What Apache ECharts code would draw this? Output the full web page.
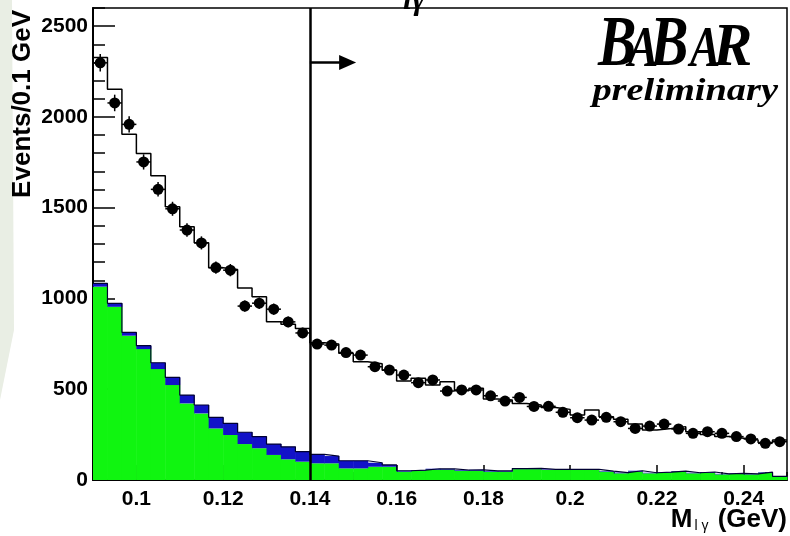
<!DOCTYPE html>
<html><head><meta charset="utf-8">
<script src="https://cdn.jsdelivr.net/npm/echarts@6/dist/echarts.min.js"></script>
<style>html,body{margin:0;padding:0;background:#fff}#c{width:790px;height:536px}</style>
</head><body><div id="c"></div>
<script>
// ---- data ----
const xRange = [0.09, 0.25];
const nBins = 48;
const dataCounts = [2298,2077,1959,1752,1601,1494,1377,1306,1170,1156,
  958,974,941,871,810,749,743,702,688,624,
  606,578,536,551,490,496,496,464,435,455,
  405,406,373,343,330,345,321,284,297,308,
  281,257,266,257,239,226,202,211];
const mcTotal = [2328,2153,1904,1799,1676,1505,1395,1307,1169,1160,
  1058,1010,872,858,835,756,749,698,651,640,
  605,545,560,523,541,492,505,446,441,422,
  413,400,389,358,385,349,334,308,275,284,
  294,266,251,239,230,220,206,220];
const greenBkg = [1065,954,795,721,611,523,422,367,284,248,
  198,175,138,114,101,92,92,64,64,73,
  73,46,50,57,57,51,51,46,46,60,
  60,55,55,55,55,46,37,46,37,40,
  46,37,40,31,33,31,40,18];
const blueBkg = [18,19,18,19,35,42,46,46,61,64,
  65,64,60,69,55,49,40,42,42,22,
  10,5,4,5,4,4,5,4,4,3,
  4,3,3,4,3,3,4,5,3,3,
  3,3,4,3,3,3,3,2];
const xMajorTicks = [0.1,0.12,0.14,0.16,0.18,0.2,0.22,0.24];
const yMajorTicks = [0,500,1000,1500,2000,2500];
const cutValue = 0.14;
const arrowLevel = 2300;
const arrowHeadAt = 0.1487;

// ---- build ----
const bw = (xRange[1]-xRange[0])/nBins;
const lo = i => xRange[0] + i*bw;
const greenData = greenBkg.map((g,i)=>[lo(i), lo(i+1), 0, g]);
const blueData = blueBkg.map((b,i)=>[lo(i), lo(i+1), greenBkg[i], greenBkg[i]+b]);
const stepOf = arr => { const d = arr.map((v,i)=>[lo(i), v]); d.push([xRange[1], arr[arr.length-1]]); return d; };
const pts = dataCounts.map((v,i)=>[lo(i)+bw/2, v]);
const errs = dataCounts.map((v,i)=>[lo(i)+bw/2, v, Math.sqrt(v), bw/2]);

function rectItem(color){
  return function(params, api){
    const p0 = api.coord([api.value(0), api.value(3)]);
    const p1 = api.coord([api.value(1), api.value(2)]);
    return {type:'rect', shape:{x:p0[0], y:p0[1], width:p1[0]-p0[0]+0.5, height:p1[1]-p0[1]},
      style:{fill:color}};
  };
}

const font = 'Liberation Sans, Arial, sans-serif';
const serif = 'Liberation Serif, serif';
const isMult = (v, m) => Math.abs(v/m - Math.round(v/m)) < 1e-6;
function letter(ch, x, fs, sx){
  return {type: 'text', x: x, y: 70 + 0.167*fs, scaleX: sx,
    style: {text: ch, font: 'italic bold ' + fs + 'px ' + serif, fill: '#000', verticalAlign: 'bottom'}};
}

const chart = echarts.init(document.getElementById('c'), null, {renderer:'canvas'});
chart.setOption({
  animation: false,
  backgroundColor: '#ffffff',
  grid: {left: 93, right: 2, top: 8, bottom: 56, show: true, borderColor: '#000', borderWidth: 1.5, backgroundColor: 'transparent'},
  xAxis: [{
    type: 'value', min: xRange[0], max: xRange[1], interval: 0.005, position: 'bottom',
    axisLine: {show: true, onZero: false, lineStyle: {color: '#000', width: 2}},
    axisTick: {show: true, inside: true, length: 8, lineStyle: {color: '#000', width: 1.5}},
    splitLine: {show: false},
    axisLabel: {margin: 9, color: '#000', fontFamily: font, fontWeight: 'bold', fontSize: 21,
      formatter: v => isMult(v, 0.02) ? String(+v.toFixed(3)) : ''}
  }, {
    type: 'value', min: xRange[0], max: xRange[1], position: 'bottom',
    axisLine: {show: false},
    axisTick: {show: true, inside: true, length: 15, customValues: xMajorTicks, lineStyle: {color: '#000', width: 1.5}},
    axisLabel: {show: false}, splitLine: {show: false}
  }],
  yAxis: [{
    type: 'value', min: 0, max: 2600, interval: 100, position: 'left',
    axisLine: {show: true, onZero: false, lineStyle: {color: '#000', width: 2}},
    axisTick: {show: true, inside: true, length: 12, lineStyle: {color: '#000', width: 1.5}},
    splitLine: {show: false},
    axisLabel: {margin: 5, color: '#000', fontFamily: font, fontWeight: 'bold', fontSize: 21,
      formatter: v => (isMult(v, 500) && v <= 2500) ? String(v) : ''}
  }, {
    type: 'value', min: 0, max: 2600, position: 'left',
    axisLine: {show: false},
    axisTick: {show: true, inside: true, length: 22, customValues: yMajorTicks, lineStyle: {color: '#000', width: 1.5}},
    axisLabel: {show: false}, splitLine: {show: false}
  }],
  series: [
    {type: 'custom', name: 'green', renderItem: rectItem('#10f510'), data: greenData, z: 1},
    {type: 'custom', name: 'blue', renderItem: rectItem('#1212c8'), data: blueData, z: 1},
    {type: 'line', name: 'bkgtop', step: 'end', data: stepOf(greenBkg.map((g,i)=>g+blueBkg[i])), symbol: 'none',
      lineStyle: {color: '#000033', width: 1.2}, z: 2},
    {type: 'line', name: 'mc', step: 'end', data: stepOf(mcTotal), symbol: 'none',
      lineStyle: {color: '#000', width: 1.5}, z: 3,
      markLine: {silent: true, symbol: ['none','none'], label: {show: false}, animation: false,
        lineStyle: {color: '#000', width: 2.5, type: 'solid'},
        data: [{xAxis: cutValue}]}},
    {type: 'line', name: 'arrow', data: [], z: 4,
      markLine: {silent: true, label: {show: false}, animation: false, symbol: ['none','triangle'], symbolSize: [15,17],
        lineStyle: {color: '#000', width: 2.5, type: 'solid'},
        data: [[{coord: [cutValue, arrowLevel]}, {coord: [arrowHeadAt, arrowLevel]}]]}},
    {type: 'custom', name: 'err', z: 5, data: errs,
      renderItem: function(params, api){
        const x = api.value(0), v = api.value(1), e = api.value(2), h = api.value(3);
        const a = api.coord([x, v-e]), b = api.coord([x, v+e]);
        const c = api.coord([x-h, v]), d = api.coord([x+h, v]);
        return {type: 'group', children: [
          {type: 'line', shape: {x1: a[0], y1: a[1], x2: b[0], y2: b[1]}, style: {stroke: '#000', lineWidth: 1.5}},
          {type: 'line', shape: {x1: c[0], y1: c[1], x2: d[0], y2: d[1]}, style: {stroke: '#000', lineWidth: 1.5}}
        ]};
      }},
    {type: 'scatter', name: 'data', data: pts, symbol: 'circle', symbolSize: 11,
      itemStyle: {color: '#000', opacity: 1}, z: 6}
  ],
  graphic: [
    {type: 'polygon', z: -10, shape: {points: [[0,0],[12,0],[14,330],[0,400]]}, style: {fill: '#e9eee4'}},
    {type: 'text', x: 23, y: 10, rotation: Math.PI/2,
      style: {text: 'Events/0.1 GeV', font: 'bold 26px ' + font, fill: '#000', align: 'right', verticalAlign: 'middle'}},
    {type: 'text', x: 403, y: 17,
      style: {text: 'lγ', font: 'italic bold 32px ' + serif, fill: '#000', align: 'left', verticalAlign: 'bottom'}},
    letter('B', 598, 72, 0.8),
    letter('A', 628, 57, 0.8),
    letter('B', 650, 72, 0.8),
    letter('A', 690, 57, 0.8),
    letter('R', 713, 62, 0.95),
    {type: 'text', x: 778, y: 108, scaleX: 1.2, style: {text: 'preliminary', font: 'italic bold 32px ' + serif, fill: '#000', align: 'right', verticalAlign: 'bottom'}},
    {type: 'text', x: 787, y: 533, style: {
      text: '{m|M}{s|l γ}{m| (GeV)}', align: 'right', verticalAlign: 'bottom',
      rich: {m: {font: 'bold 26px ' + font, fill: '#000'}, s: {font: '14px ' + font, fill: '#000', padding: [12,2,0,2]}}}}
  ]
});
</script></body></html>
